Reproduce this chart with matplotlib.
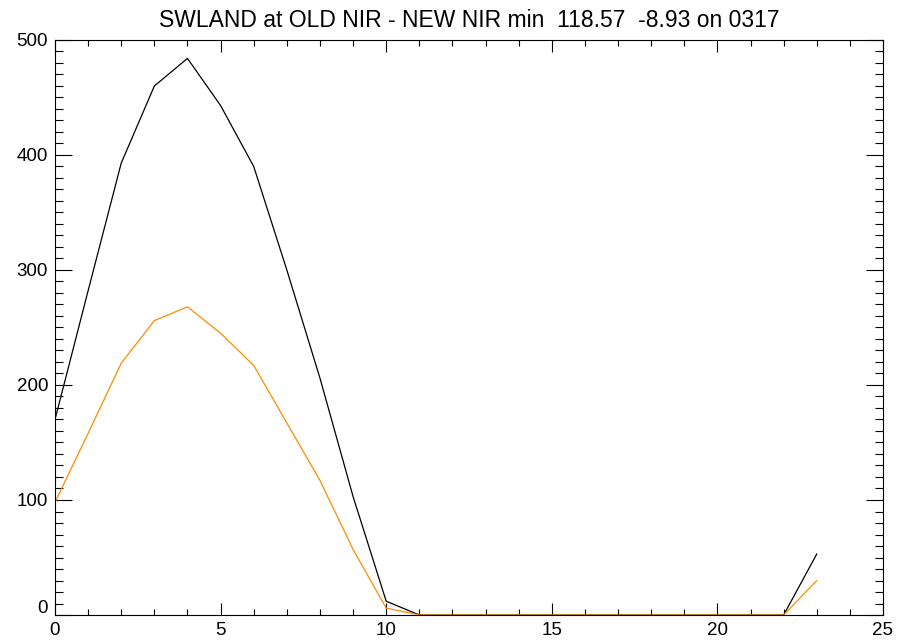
import numpy as np
import matplotlib.pyplot as plt
from matplotlib.ticker import MultipleLocator, FuncFormatter

hours = [0, 1, 2, 3, 4, 5, 6, 7, 8, 9, 10, 11, 12, 13, 14, 15, 16, 17, 18, 19, 20, 21, 22, 23]
old_nir = [170, 282, 393, 460, 484, 443, 390, 300, 206, 103, 12, 0,
           0, 0, 0, 0, 0, 0, 0, 0, 0, 0, 0, 53]
new_nir = [98, 158, 219, 256, 268, 245, 217, 167, 117, 57, 6, 0,
           0, 0, 0, 0, 0, 0, 0, 0, 0, 0, 0, 30]
title = "SWLAND at OLD NIR - NEW NIR min  118.57  -8.93 on 0317"

plt.rcParams['font.family'] = ['Liberation Sans', 'DejaVu Sans']
fig = plt.figure(figsize=(9.17, 6.44), dpi=100)
ax = fig.add_axes([55/917, 29/644, 828/917, 575/644])

ax.plot(hours, old_nir, color='black', lw=0.9)
ax.plot(hours, new_nir, color='#ff8c00', lw=0.9)

ax.set_xlim(0, 25)
ax.set_ylim(0, 500)
ax.xaxis.set_major_locator(MultipleLocator(5))
ax.xaxis.set_minor_locator(MultipleLocator(1))
ax.yaxis.set_major_locator(MultipleLocator(100))
ax.yaxis.set_minor_locator(MultipleLocator(10))
ax.tick_params(axis='x', which='major', direction='in', top=True, length=8.3, width=0.8, labelsize=13.5, pad=5)
ax.tick_params(axis='x', which='minor', direction='in', top=True, length=4.2, width=0.8)
ax.tick_params(axis='y', which='major', direction='in', right=True, length=12, width=0.8, labelsize=13.5, pad=5)
ax.tick_params(axis='y', which='minor', direction='in', right=True, length=6, width=0.8)
for s in ax.spines.values():
    s.set_linewidth(0.8)

# IDL nudges the bottom y label up off the axis: draw it by hand
ax.yaxis.set_major_formatter(FuncFormatter(lambda v, p: '' if v == 0 else '%d' % v))
ax.annotate('0', xy=(0, 0), xycoords=('axes fraction', 'data'), xytext=(-5, 4.5),
            textcoords='offset points', ha='right', va='center', fontsize=13.5)

ax.set_title(title, fontsize=16.5, pad=9)
fig.savefig('out.png', dpi=100)
